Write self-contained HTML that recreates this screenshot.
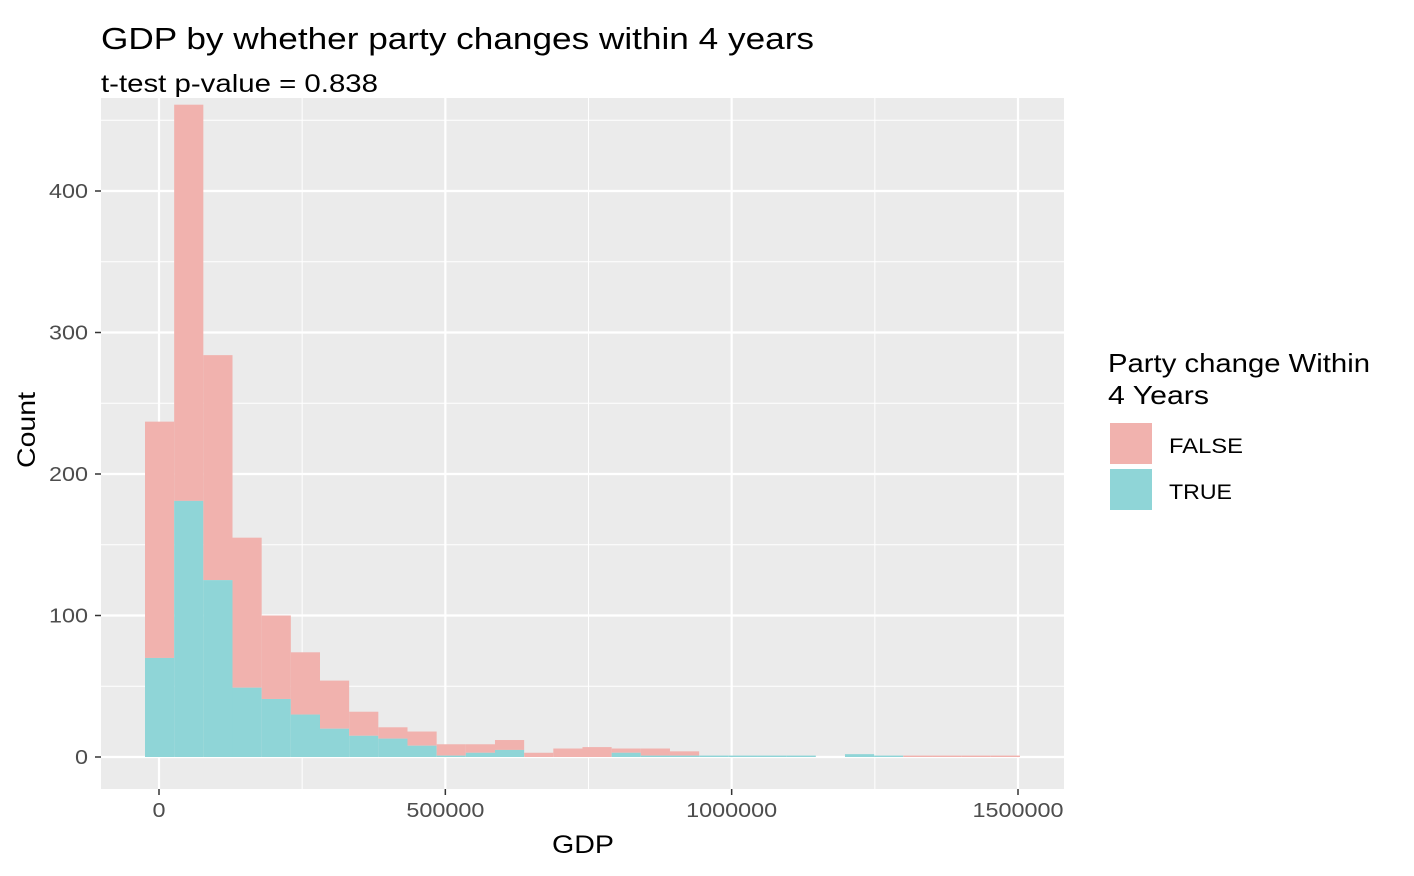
<!DOCTYPE html>
<html><head><meta charset="utf-8"><style>
body{margin:0;background:#fff;}
svg{display:block;font-family:"Liberation Sans",Arial,sans-serif;}
</style></head><body>
<svg id="chart" width="1414" height="876">
<text x="101" y="49" font-size="31" fill="#000" textLength="713" lengthAdjust="spacingAndGlyphs">GDP by whether party changes within 4 years</text>
<rect x="101" y="98" width="963" height="691" fill="#EBEBEB"/>
<g id="grid"></g>
<g id="bars"></g>
<text x="101" y="92" font-size="25" fill="#000" textLength="277" lengthAdjust="spacingAndGlyphs">t-test p-value = 0.838</text>
<g id="axes"></g>
<text x="552" y="853" font-size="25" textLength="62" lengthAdjust="spacingAndGlyphs">GDP</text>
<text transform="translate(35,468) rotate(-90)" font-size="25" textLength="76" lengthAdjust="spacingAndGlyphs">Count</text>
<g>
<text x="1108" y="372" font-size="26" textLength="262" lengthAdjust="spacingAndGlyphs">Party change Within</text>
<text x="1108" y="404" font-size="26" textLength="101" lengthAdjust="spacingAndGlyphs">4 Years</text>
<rect x="1110" y="423" width="42" height="41" fill="#F1B2AE"/>
<text x="1169" y="453" font-size="21" textLength="74" lengthAdjust="spacingAndGlyphs">FALSE</text>
<rect x="1110" y="469" width="42" height="41" fill="#8FD5D7"/>
<text x="1169" y="499" font-size="21" textLength="63" lengthAdjust="spacingAndGlyphs">TRUE</text>
</g>
</svg>
<script>
const totalCounts=[237,461,284,155,100,74,54,32,21,18,9,9,12,3,6,7,6,6,4,1,1,1,1,0,2,1,1,1,1,1];
const trueCounts=[70,181,125,49,41,30,20,15,13,8,1,3,5,0,0,0,3,1,1,1,1,1,1,0,2,1,0,0,0,0];
const xTicks=[0,500000,1000000,1500000];
const xMinor=[250000,750000,1250000];
const yTicks=[0,100,200,300,400];
const yMinor=[50,150,250,350,450];
const binStart=-24450, binWidth=50930;
const X=v=>159+(v)*(859/1500000);
const Y=v=>757-v*1.415;
const NS="http://www.w3.org/2000/svg";
function mk(parent,tag,attrs){const e=document.createElementNS(NS,tag);for(const k in attrs)e.setAttribute(k,attrs[k]);document.getElementById(parent).appendChild(e);return e;}
yMinor.forEach(v=>{const l=mk('grid','line',{x1:101,x2:1064,y1:Y(v),y2:Y(v),stroke:'#fff','stroke-width':1});

});
xMinor.forEach(v=>{const l=mk('grid','line',{x1:X(v),x2:X(v),y1:98,y2:789,stroke:'#fff','stroke-width':1});

});
yTicks.forEach(v=>{const l=mk('grid','line',{x1:101,x2:1064,y1:Y(v),y2:Y(v),stroke:'#fff','stroke-width':2.2});


const t=mk('axes','text',{x:88,y:Y(v)+7,'font-size':20,fill:'#4D4D4D','text-anchor':'end'});t.textContent=v;
const w=String(v).length*13;
t.setAttribute('textLength',w);
t.setAttribute('lengthAdjust','spacingAndGlyphs');


const k=mk('axes','line',{x1:95,x2:101,y1:Y(v),y2:Y(v),stroke:'#333','stroke-width':1.5});

});
xTicks.forEach(v=>{const l=mk('grid','line',{x1:X(v),x2:X(v),y1:98,y2:789,stroke:'#fff','stroke-width':2.2});


const t=mk('axes','text',{x:X(v),y:817,'font-size':20,fill:'#4D4D4D','text-anchor':'middle'});t.textContent=v;
const w=String(v).length*13;
t.setAttribute('textLength',w);
t.setAttribute('lengthAdjust','spacingAndGlyphs');


const k=mk('axes','line',{x1:X(v),x2:X(v),y1:789,y2:795,stroke:'#333','stroke-width':1.5});

});
totalCounts.forEach((c,i)=>{
 const x0=X(binStart+i*binWidth), x1=X(binStart+(i+1)*binWidth);
 const f=c-trueCounts[i];
 if(f>0){const r=mk('bars','rect',{x:x0,y:Y(c),width:x1-x0,height:Y(trueCounts[i])-Y(c),fill:'#F1B2AE'});
 
 }
 if(trueCounts[i]>0){const r=mk('bars','rect',{x:x0,y:Y(trueCounts[i]),width:x1-x0,height:Y(0)-Y(trueCounts[i]),fill:'#8FD5D7'});
 
 }
});
</script>
</body></html>
